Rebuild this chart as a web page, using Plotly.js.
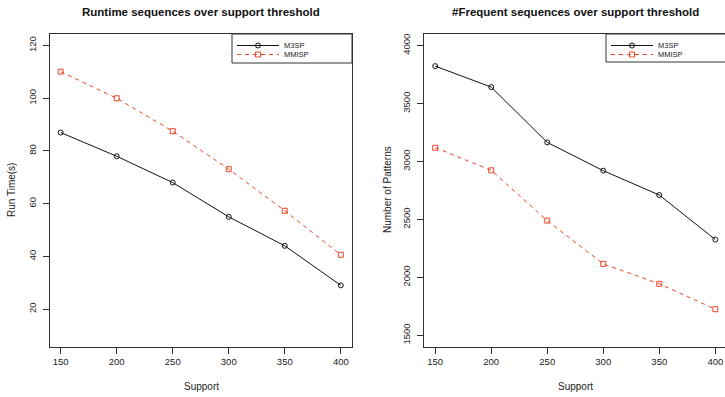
<!DOCTYPE html>
<html>
<head>
<meta charset="utf-8">
<script src="https://cdn.plot.ly/plotly-3.0.1.min.js"></script>
<style>
  html, body { margin: 0; padding: 0; background: #fff; }
  #chart { width: 725px; height: 397px; }
</style>
</head>
<body>
<div id="chart"></div>
<script>
// Support thresholds shared by both panels
const support = [150, 200, 250, 300, 350, 400];

// Run time (seconds) per algorithm
const runtimeM3SP  = [87, 78, 68, 55, 44, 29];
const runtimeMMISP = [110.1, 100, 87.5, 73.1, 57.3, 40.6];

// Number of frequent patterns per algorithm
const patternsM3SP  = [3823, 3642, 3165, 2921, 2711, 2327];
const patternsMMISP = [3119, 2924, 2490, 2117, 1945, 1726];

// Tick values
const supportTicks = [150, 200, 250, 300, 350, 400];
const runtimeTicks = [20, 40, 60, 80, 100, 120];
const patternTicks = [1500, 2000, 2500, 3000, 3500, 4000];

const W = 725, H = 397;
const fx = p => p / W;          // pixel -> paper x
const fy = p => 1 - p / H;      // pixel -> paper y

const FONT = 'Liberation Sans, Arial, Helvetica, sans-serif';
const BLACK = '#111111';
const RED = '#EE4428';

const m3spStyle = {
  mode: 'lines+markers', showlegend: true,
  line: { color: BLACK, width: 1 },
  marker: { symbol: 'circle-open', size: 5, color: BLACK, line: { width: 1, color: BLACK } }
};
const mmispStyle = {
  mode: 'lines+markers', showlegend: true,
  line: { color: RED, width: 1, dash: '4px,4px' },
  marker: { symbol: 'square-open', size: 5, color: RED, line: { width: 1, color: RED } }
};

const traces = [
  Object.assign({ x: support, y: runtimeM3SP, name: 'M3SP', xaxis: 'x', yaxis: 'y', legend: 'legend' }, m3spStyle),
  Object.assign({ x: support, y: runtimeMMISP, name: 'MMISP', xaxis: 'x', yaxis: 'y', legend: 'legend2' }, mmispStyle),
  Object.assign({ x: support, y: patternsM3SP, name: 'M3SP', xaxis: 'x2', yaxis: 'y2', legend: 'legend3' }, m3spStyle),
  Object.assign({ x: support, y: patternsMMISP, name: 'MMISP', xaxis: 'x2', yaxis: 'y2', legend: 'legend4' }, mmispStyle)
];

const axisBase = {
  showline: true, linecolor: '#333', linewidth: 1,
  ticks: 'outside', ticklen: 6, tickwidth: 1, tickcolor: '#333',
  showgrid: false, zeroline: false, fixedrange: true,
  tickfont: { family: FONT, size: 9.5, color: '#222' }
};

const yDomain = [fy(347), fy(34)];

const legendBase = {
  xanchor: 'left', yanchor: 'top',
  bgcolor: 'rgba(0,0,0,0)', borderwidth: 0,
  font: { family: FONT, size: 7.5, color: '#222' },
  itemwidth: 42,
  tracegroupgap: 0
};

const layout = {
  width: W, height: H,
  margin: { l: 0, r: 0, t: 0, b: 0 },
  showlegend: true,
  paper_bgcolor: '#fff', plot_bgcolor: '#fff',
  font: { family: FONT, color: '#222' },
  xaxis: Object.assign({}, axisBase, {
    domain: [fx(49.5), fx(352)], range: [140, 410], tickvals: supportTicks, mirror: true, anchor: 'y'
  }),
  yaxis: Object.assign({}, axisBase, {
    domain: yDomain, range: [5.6, 124.4], tickvals: runtimeTicks, tickangle: -90,
    ticklabelstandoff: 3, mirror: true, anchor: 'x'
  }),
  xaxis2: Object.assign({}, axisBase, {
    domain: [fx(424), 1], range: [140, 408.66], tickvals: supportTicks, mirror: true, anchor: 'y2'
  }),
  yaxis2: Object.assign({}, axisBase, {
    domain: yDomain, range: [1400, 4100], tickvals: patternTicks, tickangle: -90,
    ticklabelstandoff: 3, mirror: false, anchor: 'x2'
  }),
  legend:  Object.assign({}, legendBase, { x: fx(232), y: fy(31) }),
  legend2: Object.assign({}, legendBase, { x: fx(232), y: fy(40) }),
  legend3: Object.assign({}, legendBase, { x: fx(606), y: fy(31) }),
  legend4: Object.assign({}, legendBase, { x: fx(606), y: fy(40) }),
  shapes: [
    { type: 'rect', xref: 'paper', yref: 'paper', x0: fx(232), x1: fx(352), y0: fy(63), y1: fy(34),
      line: { color: '#333', width: 1 }, fillcolor: 'rgba(0,0,0,0)' },
    { type: 'rect', xref: 'paper', yref: 'paper', x0: fx(606), x1: fx(740), y0: fy(62), y1: fy(34),
      line: { color: '#333', width: 1 }, fillcolor: 'rgba(0,0,0,0)' }
  ],
  annotations: [
    { text: '<b>Runtime sequences over support threshold</b>', xref: 'paper', yref: 'paper',
      x: fx(201), y: fy(12), xanchor: 'center', yanchor: 'middle', showarrow: false,
      font: { family: FONT, size: 11.5, color: '#111' } },
    { text: '<b>#Frequent sequences over support threshold</b>', xref: 'paper', yref: 'paper',
      x: fx(575), y: fy(12), xanchor: 'center', yanchor: 'middle', showarrow: false,
      font: { family: FONT, size: 11.5, color: '#111' } },
    { text: 'Support', xref: 'paper', yref: 'paper', x: fx(201), y: fy(386),
      xanchor: 'center', yanchor: 'middle', showarrow: false, font: { family: FONT, size: 10, color: '#222' } },
    { text: 'Support', xref: 'paper', yref: 'paper', x: fx(575), y: fy(386),
      xanchor: 'center', yanchor: 'middle', showarrow: false, font: { family: FONT, size: 10, color: '#222' } },
    { text: 'Run Time(s)', xref: 'paper', yref: 'paper', x: fx(11), y: fy(190),
      xanchor: 'center', yanchor: 'middle', textangle: -90, showarrow: false, font: { family: FONT, size: 10, color: '#222' } },
    { text: 'Number of Patterns', xref: 'paper', yref: 'paper', x: fx(387), y: fy(190),
      xanchor: 'center', yanchor: 'middle', textangle: -90, showarrow: false, font: { family: FONT, size: 10, color: '#222' } }
  ]
};

Plotly.newPlot('chart', traces, layout, { staticPlot: true, displayModeBar: false });
</script>
</body>
</html>
